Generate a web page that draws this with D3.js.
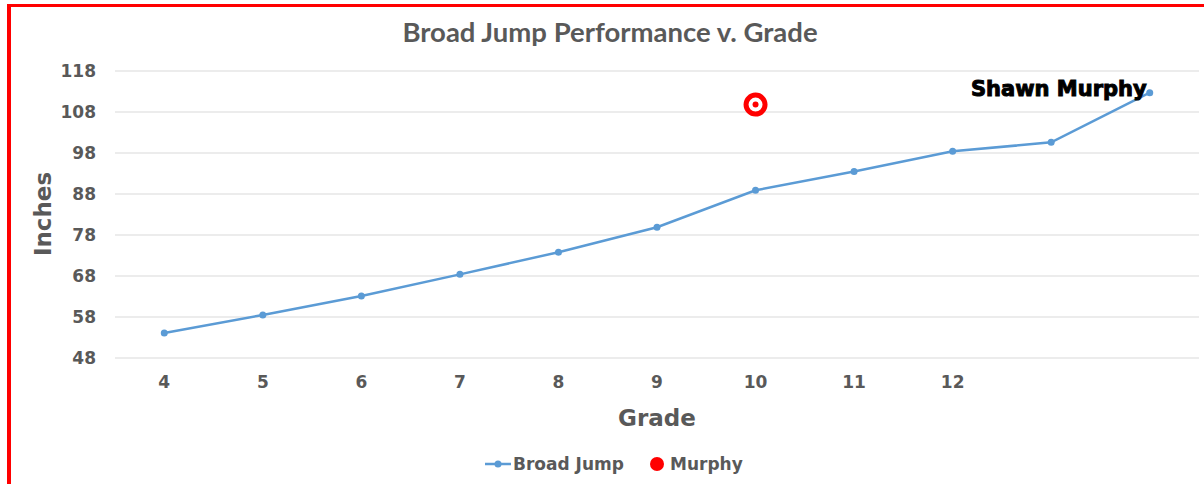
<!DOCTYPE html>
<html>
<head>
<meta charset="utf-8">
<script src="https://cdn.jsdelivr.net/npm/d3@7"></script>
<style>
body { margin: 0; background: #fff; }
svg text { font-family: "DejaVu Sans", Arial, sans-serif; }
</style>
</head>
<body>
<div id="chartArea"></div>
<script>
// grades on the category axis (last two have blank labels)
const grades = [4, 5, 6, 7, 8, 9, 10, 11, 12, 13, 14];
const gradeLabels = ["4", "5", "6", "7", "8", "9", "10", "11", "12", "", ""];
const broadJump = [54.1, 58.5, 63.1, 68.4, 73.8, 79.9, 88.9, 93.5, 98.4, 100.6, 112.7];
const murphyGrade = [10];
const murphyValue = [109.8];
const yTicks = [48, 58, 68, 78, 88, 98, 108, 118];

const W = 1204, H = 484;
const margin = { top: 71, right: 5, bottom: 126, left: 115 },
  width = W - margin.left - margin.right,
  height = H - margin.top - margin.bottom;

const svgRoot = d3.select("#chartArea")
  .append("svg")
  .attr("width", W)
  .attr("height", H);

// red frame (top and left edges visible)
svgRoot.append("rect").attr("x", 7).attr("y", 4).attr("width", W - 7).attr("height", 3).attr("fill", "#ff0000");
svgRoot.append("rect").attr("x", 7).attr("y", 4).attr("width", 4).attr("height", H - 4).attr("fill", "#ff0000");

const svg = svgRoot.append("g")
  .attr("transform", `translate(${margin.left},${margin.top})`);

const x = d3.scaleBand()
  .domain(grades)
  .range([0, width]);

const y = d3.scaleLinear()
  .domain([48, 118])
  .range([height, 0]);

const cx = g => x(g) + x.bandwidth() / 2;

// gridlines
svg.selectAll(".grid")
  .data(yTicks)
  .enter()
  .append("line")
  .attr("x1", 0)
  .attr("x2", width)
  .attr("y1", d => y(d))
  .attr("y2", d => y(d))
  .attr("stroke", "#d9d9d9")
  .attr("stroke-width", 1);

// y tick labels
const yAxis = svg.append("g")
  .call(d3.axisLeft(y).tickValues(yTicks).tickSize(0).tickPadding(19));
yAxis.select(".domain").remove();
yAxis.selectAll("text")
  .attr("fill", "#595959")
  .style("font-size", "17px")
  .style("font-weight", "bold");

// x tick labels
const xAxis = svg.append("g")
  .attr("transform", `translate(0,${height})`)
  .call(d3.axisBottom(x).tickFormat((d, i) => gradeLabels[i]).tickSize(0).tickPadding(18));
xAxis.select(".domain").remove();
xAxis.selectAll("text")
  .attr("fill", "#595959")
  .style("font-size", "17px")
  .style("font-weight", "bold");

// line
const line = d3.line()
  .x((d, i) => cx(grades[i]))
  .y(d => y(d));

svg.append("path")
  .datum(broadJump)
  .attr("d", line)
  .attr("fill", "none")
  .attr("stroke", "#5b9bd5")
  .attr("stroke-width", 2.5);

svg.selectAll(".pt")
  .data(broadJump)
  .enter()
  .append("circle")
  .attr("cx", (d, i) => cx(grades[i]))
  .attr("cy", d => y(d))
  .attr("r", 3.5)
  .attr("fill", "#5b9bd5");

// Murphy marker
murphyValue.forEach((v, i) => {
  svg.append("circle")
    .attr("cx", cx(murphyGrade[i]))
    .attr("cy", y(v))
    .attr("r", 9.5)
    .attr("fill", "#fff")
    .attr("stroke", "#ff0000")
    .attr("stroke-width", 5);
  svg.append("circle")
    .attr("cx", cx(murphyGrade[i]))
    .attr("cy", y(v))
    .attr("r", 3)
    .attr("fill", "#ff0000");
});

// data label
const last = broadJump.length - 1;
svg.append("text")
  .attr("x", cx(grades[last]) - 3)
  .attr("y", y(broadJump[last]) + 3)
  .attr("text-anchor", "end")
  .attr("fill", "#000")
  .attr("stroke", "#000")
  .attr("stroke-width", 1)
  .style("font-size", "21px")
  .style("font-weight", "bold")
  .text("Shawn Murphy");

// title
svgRoot.append("text")
  .attr("x", 610)
  .attr("y", 42)
  .attr("text-anchor", "middle")
  .attr("fill", "#595959")
  .style("font-family", "Lato, 'Open Sans', sans-serif")
  .style("font-size", "27.5px")
  .style("font-weight", "bold")
  .text("Broad Jump Performance v. Grade");

// axis titles
svgRoot.append("text")
  .attr("x", margin.left + width / 2)
  .attr("y", 426)
  .attr("text-anchor", "middle")
  .attr("fill", "#595959")
  .style("font-size", "23px")
  .style("font-weight", "bold")
  .text("Grade");

svgRoot.append("text")
  .attr("text-anchor", "middle")
  .attr("transform", `translate(51,214) rotate(-90)`)
  .attr("fill", "#595959")
  .style("font-size", "23px")
  .style("font-weight", "bold")
  .text("Inches");

// legend
const legend = svgRoot.append("g").attr("transform", "translate(485,464)");
legend.append("line")
  .attr("x1", 0).attr("x2", 26).attr("y1", 0).attr("y2", 0)
  .attr("stroke", "#5b9bd5").attr("stroke-width", 2.5);
legend.append("circle").attr("cx", 13).attr("cy", 0).attr("r", 3.5).attr("fill", "#5b9bd5");
legend.append("text")
  .attr("x", 28).attr("y", 6)
  .attr("fill", "#595959")
  .style("font-size", "17px")
  .style("font-weight", "bold")
  .text("Broad Jump");
legend.append("circle").attr("cx", 172).attr("cy", 0).attr("r", 7).attr("fill", "#ff0000");
legend.append("text")
  .attr("x", 185).attr("y", 6)
  .attr("fill", "#595959")
  .style("font-size", "17px")
  .style("font-weight", "bold")
  .text("Murphy");
</script>
</body>
</html>
